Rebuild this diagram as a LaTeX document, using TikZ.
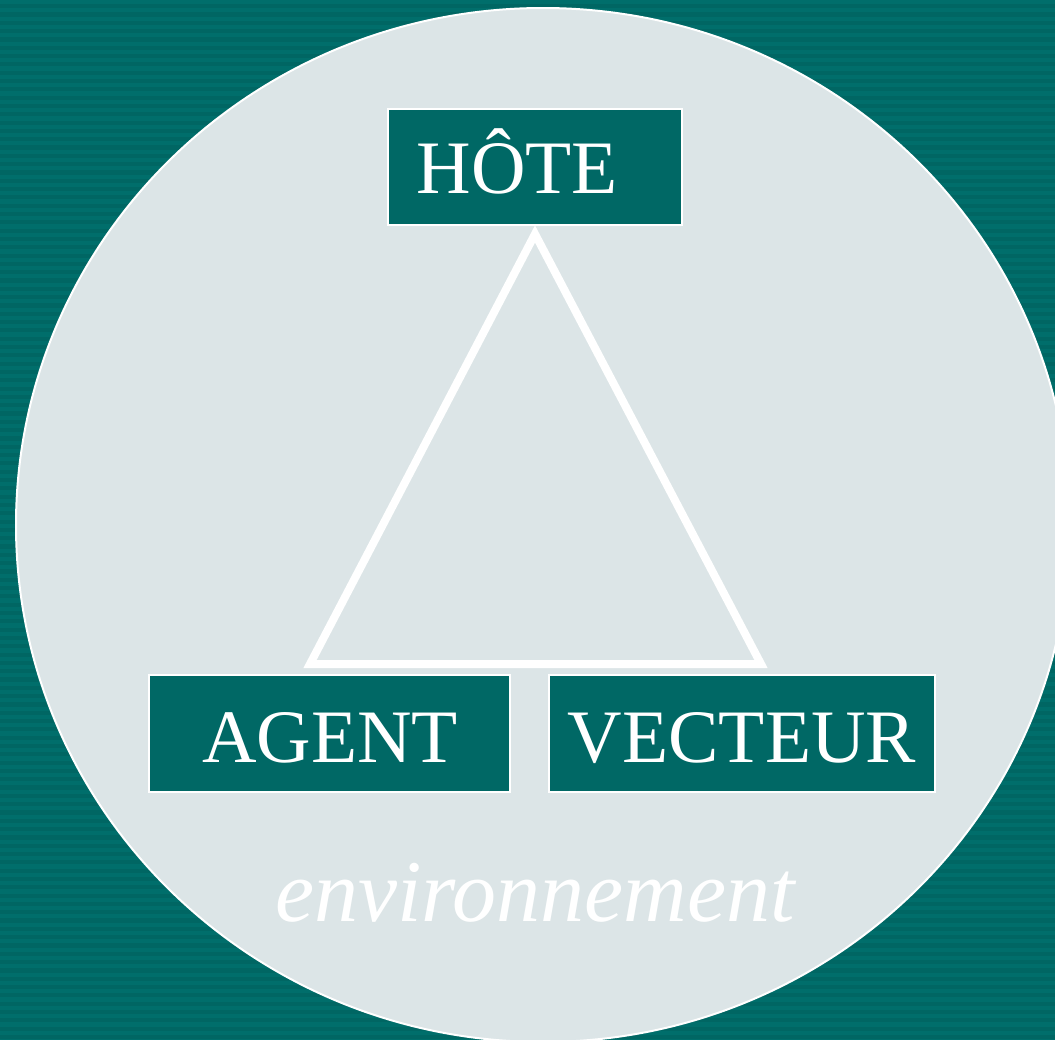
\documentclass[tikz,border=0pt]{standalone}
\usepackage{fontspec}
\setmainfont{Liberation Serif}
\definecolor{tealbg}{HTML}{006663}
\definecolor{tealstripe}{HTML}{006E6B}
\definecolor{tealbox}{HTML}{006865}
\definecolor{circfill}{HTML}{DCE5E7}
\tikzset{
  boxnode/.style={rectangle, draw=white, line width=1.5pt, fill=tealbox, inner sep=0pt},
  boxlabel/.style={text=white, inner sep=0pt, anchor=base, font=\fontsize{75.5}{80}\selectfont},
  envlabel/.style={text=white, inner sep=0pt, anchor=base, font=\fontsize{88}{92}\selectfont\itshape},
  trianglestroke/.style={draw=white, line width=8pt, line join=miter}
}
\begin{document}
\begin{tikzpicture}[x=1pt,y=-1pt]
\useasboundingbox (0,0) rectangle (1055,1039);
\clip (0,0) rectangle (1055,1039);
% background with subtle horizontal stripes
\fill[tealbg] (0,0) rectangle (1055,1039);
\foreach \i in {0,...,125} {
  \fill[tealstripe] (0,\i*8.312) rectangle (1055,\i*8.312+4.156);
}
% environment disc
\draw[white, line width=2pt, fill=circfill] (543,525) ellipse [x radius=527, y radius=517];
% boxes
\node[boxnode, minimum width=294pt, minimum height=116pt] (hote) at (535,167) {};
\node[boxnode, minimum width=361pt, minimum height=117pt] (agent) at (329.5,733.5) {};
\node[boxnode, minimum width=386pt, minimum height=117pt] (vecteur) at (742,733.5) {};
% labels
\node[boxlabel, anchor=base west] (hoteT) at (416.5,193) {HÔTE};
\node[boxlabel] (agentT) at (330,762) {AGENT};
\node[boxlabel] (vecteurT) at (742,762) {VECTEUR};
\node[envlabel] (envT) at (535,921) {environnement};
% triangle
\coordinate (apex) at (535,234);
\coordinate (bl) at (310,664);
\coordinate (br) at (761,664);
\draw[trianglestroke] (apex) -- (bl) -- (br) -- cycle;
\end{tikzpicture}
\end{document}
